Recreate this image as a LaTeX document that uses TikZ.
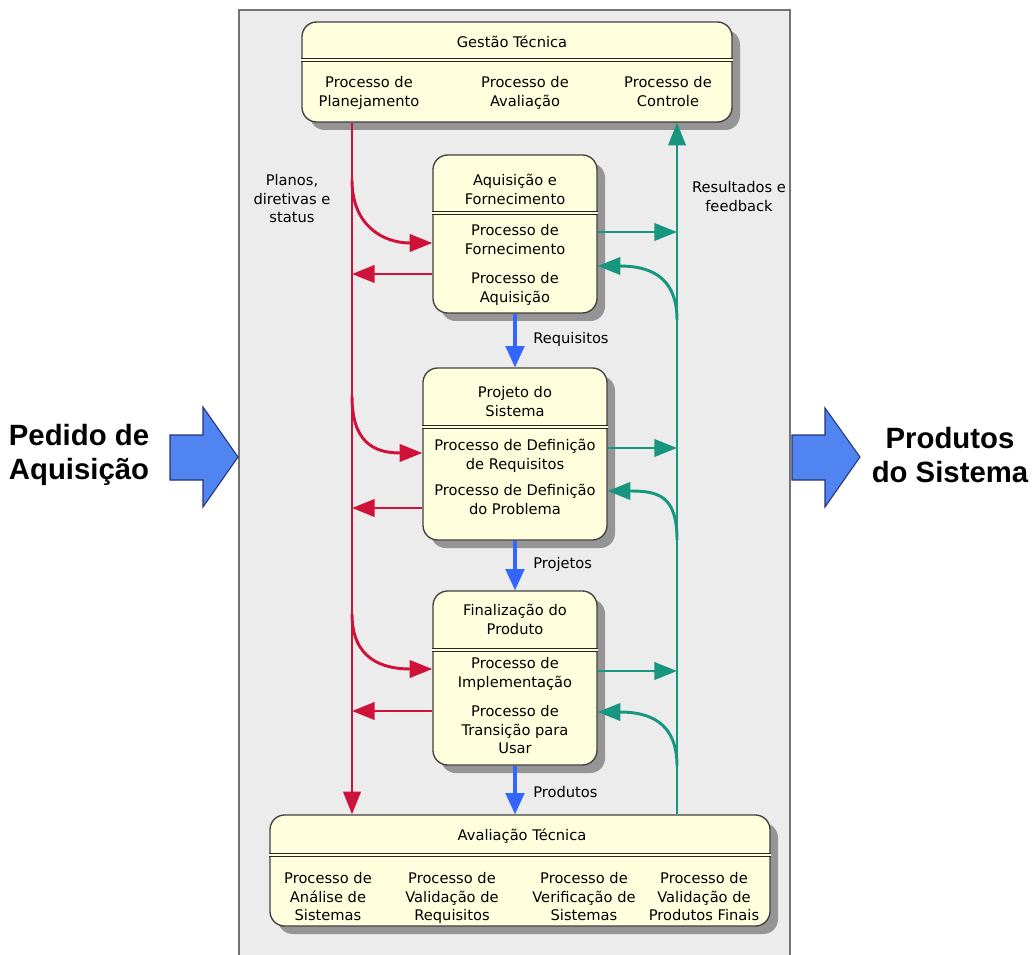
\documentclass[tikz,border=0pt]{standalone}
\usepackage{fontspec}
\setmainfont{DejaVu Sans}
\newfontfamily\bigsans{Liberation Sans}
\usepackage{xcolor}
\usetikzlibrary{arrows.meta, calc, shadows}

\definecolor{panelgray}{RGB}{236,236,236}
\definecolor{boxfill}{RGB}{255,255,222}
\definecolor{planred}{RGB}{206,18,58}
\definecolor{feedteal}{RGB}{22,150,126}
\definecolor{flowblue}{RGB}{52,102,255}
\definecolor{bigblue}{RGB}{80,132,240}
\definecolor{bigedge}{RGB}{38,52,118}

\begin{document}
\begin{tikzpicture}[x=0.75pt, y=-0.75pt,
    proc/.style = {draw=black!75, line width=1pt, fill=boxfill, rounded corners=11pt,
                   drop shadow={shadow xshift=6pt, shadow yshift=-6pt, fill=black!45, opacity=0.9}},
    lbl/.style = {align=center, inner sep=0pt, anchor=north, font=\fontsize{11}{14}\selectfont},
    seprule/.style = {draw=black!85, line width=0.8pt, double=boxfill, double distance=1.2pt},
    plan/.style = {draw=planred, line width=2.2pt, -{Triangle[length=17pt, width=13pt]}},
    feed/.style = {draw=feedteal, line width=2.2pt, -{Triangle[length=17pt, width=13pt]}},
    flow/.style = {draw=flowblue, line width=2.4pt, -{Triangle[length=16pt, width=14pt]}},
    big/.style = {fill=bigblue, draw=bigedge, line width=0.8pt},
    bigtxt/.style = {align=center, inner sep=0pt, font=\bigsans\bfseries\fontsize{22}{26}\selectfont}
  ]
  \useasboundingbox (0,0) rectangle (1034,955);

  \fill[panelgray] (239,10) rectangle (790,955);
  \draw[black!55, line width=1.2pt] (239,955) -- (239,10) -- (790,10) -- (790,955);

  \draw[big] (170,435) -- (203,435) -- (203,407) -- (238,457) -- (203,507) -- (203,480) -- (170,480) -- cycle;
  \draw[big] (792,435) -- (825,435) -- (825,408) -- (860,457) -- (825,507) -- (825,480) -- (792,480) -- cycle;
  \node[bigtxt] (pedido)   at (79,455)  {Pedido de\\Aquisição};
  \node[bigtxt] (produtos) at (950,455) {Produtos\\do Sistema};

  \node[proc, minimum width=322.5pt, minimum height=75pt]   (gest) at (517,72)    {};
  \node[proc, minimum width=123pt,   minimum height=118.5pt] (af)  at (515,234)   {};
  \node[proc, minimum width=138pt,   minimum height=129pt]  (ps)   at (515,454)   {};
  \node[proc, minimum width=123pt,   minimum height=130.5pt] (fp)  at (515,678)   {};
  \node[proc, minimum width=375pt,   minimum height=83.25pt] (aval) at (520,870.5) {};

  \draw[seprule] (gest.west |- 0,60)  -- (gest.east |- 0,60);
  \draw[seprule] (af.west |- 0,213)   -- (af.east |- 0,213);
  \draw[seprule] (ps.west |- 0,427)   -- (ps.east |- 0,427);
  \draw[seprule] (fp.west |- 0,650)   -- (fp.east |- 0,650);
  \draw[seprule] (aval.west |- 0,855) -- (aval.east |- 0,855);

  \node[lbl] (gestT)  at (512,36)  {Gestão Técnica};
  \node[lbl] (planej) at (369,76)  {Processo de\\Planejamento};
  \node[lbl] (avalia) at (525,76)  {Processo de\\Avaliação};
  \node[lbl] (contr)  at (668,76)  {Processo de\\Controle};

  \node[lbl] (afT)    at (515,174) {Aquisição e\\Fornecimento};
  \node[lbl] (fornec) at (515,224) {Processo de\\Fornecimento};
  \node[lbl] (aquis)  at (515,272) {Processo de\\Aquisição};

  \node[lbl] (psT)    at (515,386) {Projeto do\\Sistema};
  \node[lbl] (defreq) at (515,439) {Processo de Definição\\de Requisitos};
  \node[lbl] (defprb) at (515,484) {Processo de Definição\\do Problema};

  \node[lbl] (fpT)    at (515,604) {Finalização do\\Produto};
  \node[lbl] (implem) at (515,657) {Processo de\\Implementação};
  \node[lbl] (transi) at (515,705) {Processo de\\Transição para\\Usar};

  \node[lbl] (avalT)  at (522,828) {Avaliação Técnica};
  \node[lbl] (anali)  at (328,872) {Processo de\\Análise de\\Sistemas};
  \node[lbl] (valreq) at (452,872) {Processo de\\Validação de\\Requisitos};
  \node[lbl] (verif)  at (584,872) {Processo de\\Verificação de\\Sistemas};
  \node[lbl] (valprd) at (704,872) {Processo de\\Validação de\\Produtos Finais};

  \node[lbl] (planos) at (292,174) {Planos,\\diretivas e\\status};
  \node[lbl] (result) at (739,181) {Resultados e\\feedback};

  \coordinate (pl) at (352,0);
  \coordinate (fb) at (677,0);
  \coordinate (fl) at (515,0);

  \draw[plan] (gest.south -| pl) -- (aval.north -| pl);
  \draw[feed] (aval.north -| fb) -- (gest.south -| fb);

  \foreach \b/\ya/\yb/\yc/\yd/\ye/\yf in {af/180/243/274/232/266/320,
                                          ps/396/453/508/448/491/540,
                                          fp/614/669/711/671/712/766} {
    \draw[plan] (pl |- 0,\ya) .. controls +(0,45) and +(-50,0) .. (\b.west |- 0,\yb);
    \draw[plan] (\b.west |- 0,\yc) -- (pl |- 0,\yc);
    \draw[feed] (\b.east |- 0,\yd) -- (fb |- 0,\yd);
    \draw[feed] (fb |- 0,\yf) .. controls +(0,-45) and +(50,0) .. (\b.east |- 0,\ye);
  }

  \draw[flow] (af.south -| fl) -- (ps.north -| fl);
  \draw[flow] (ps.south -| fl) -- (fp.north -| fl);
  \draw[flow] (fp.south -| fl) -- (aval.north -| fl);

  \node[lbl, anchor=west] (requis) at (533,339) {Requisitos};
  \node[lbl, anchor=west] (projet) at (533,564) {Projetos};
  \node[lbl, anchor=west] (produt) at (533,792) {Produtos};
\end{tikzpicture}
\end{document}
